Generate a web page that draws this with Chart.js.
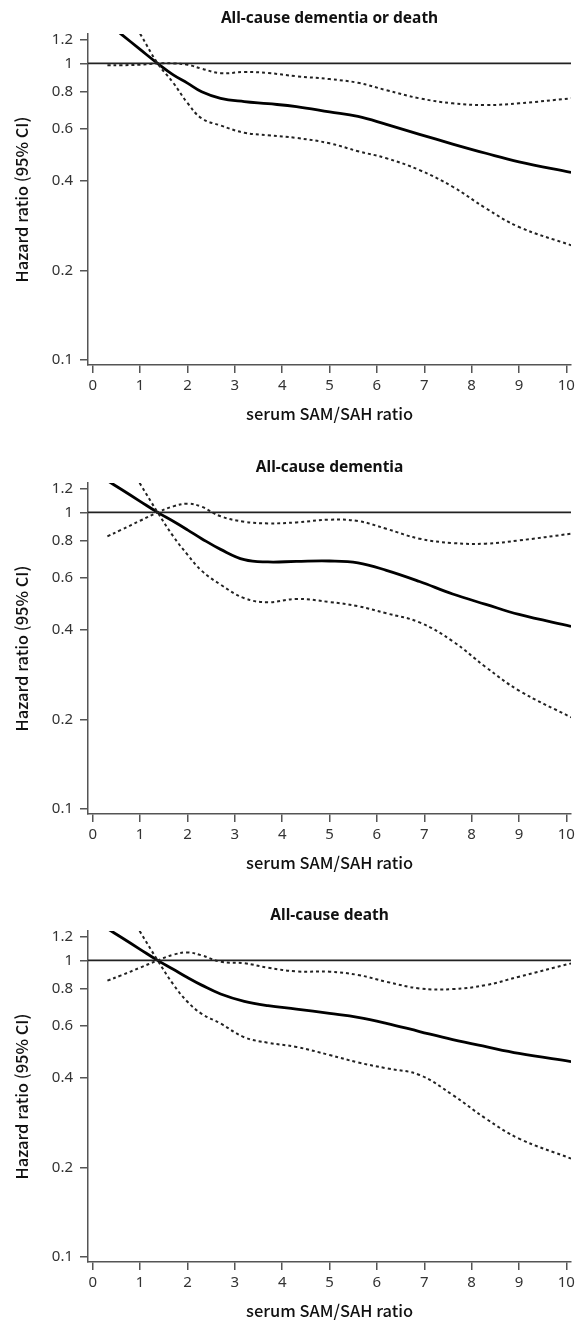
<!DOCTYPE html>
<html>
<head>
<meta charset="utf-8">
<script src="https://cdn.jsdelivr.net/npm/chart.js@4.4.1/dist/chart.umd.min.js"></script>
<style>
  html, body { margin: 0; padding: 0; background: #fff; overflow: hidden; }
  .panel { position: absolute; left: 0; width: 579px; }
</style>
</head>
<body>
<div class="panel" style="top:0px"><canvas id="c1" width="579" height="430"></canvas></div>
<div class="panel" style="top:449px"><canvas id="c2" width="579" height="430"></canvas></div>
<div class="panel" style="top:897px"><canvas id="c3" width="579" height="430"></canvas></div>
<script>
// ---- data ----
const panelTitles = ["All-cause dementia or death", "All-cause dementia", "All-cause death"];
const xTitle = "serum SAM/SAH ratio";
const yTitle = "Hazard ratio (95% CI)";
const xTicks = [0, 1, 2, 3, 4, 5, 6, 7, 8, 9, 10];
const yTicks = [0.1, 0.2, 0.4, 0.6, 0.8, 1, 1.2];
const xRange = [-0.1, 10.1];
const yRange = [0.0957, 1.256];
const refLine = [1, 1];

const xValues = [0.31, 0.6, 1.0, 1.37, 1.7, 2.0, 2.3, 2.7, 3.2, 3.7, 4.3, 5.0, 5.6, 6.2, 6.9, 7.6, 8.3, 9.0, 10.1];

// All-cause dementia or death
const hr1 = [1.37, 1.256, 1.115, 1.0, 0.915, 0.858, 0.802, 0.762, 0.743, 0.731, 0.715, 0.686, 0.662, 0.622, 0.576, 0.534, 0.497, 0.465, 0.428];
const hi1 = [0.985, 0.986, 0.99, 1.0, 1.0, 0.99, 0.96, 0.927, 0.935, 0.928, 0.905, 0.885, 0.86, 0.812, 0.762, 0.733, 0.723, 0.733, 0.762];
const lo1 = [null, 1.6, 1.26, 1.0, 0.86, 0.735, 0.652, 0.617, 0.583, 0.572, 0.56, 0.537, 0.505, 0.478, 0.436, 0.383, 0.324, 0.28, 0.243];

// All-cause dementia
const hr2 = [1.28, 1.197, 1.09, 1.0, 0.933, 0.873, 0.815, 0.75, 0.692, 0.68, 0.683, 0.685, 0.675, 0.637, 0.584, 0.53, 0.489, 0.452, 0.412];
const hi2 = [0.83, 0.873, 0.937, 1.0, 1.048, 1.07, 1.045, 0.97, 0.93, 0.918, 0.925, 0.945, 0.935, 0.88, 0.815, 0.788, 0.784, 0.804, 0.847];
const lo2 = [null, 1.6, 1.25, 1.0, 0.83, 0.72, 0.635, 0.57, 0.513, 0.497, 0.51, 0.498, 0.482, 0.456, 0.425, 0.367, 0.30, 0.25, 0.203];

// All-cause death
const hr3 = [1.28, 1.197, 1.09, 1.0, 0.933, 0.875, 0.825, 0.77, 0.727, 0.703, 0.685, 0.662, 0.642, 0.613, 0.575, 0.54, 0.511, 0.485, 0.455];
const hi3 = [0.854, 0.89, 0.945, 1.0, 1.045, 1.064, 1.04, 0.99, 0.978, 0.945, 0.918, 0.916, 0.893, 0.847, 0.804, 0.80, 0.825, 0.881, 0.977];
const lo3 = [null, 1.6, 1.25, 1.0, 0.83, 0.725, 0.66, 0.612, 0.55, 0.527, 0.51, 0.479, 0.452, 0.432, 0.41, 0.351, 0.292, 0.25, 0.214];

const panels = [
  { id: "c1", hr: hr1, hi: hi1, lo: lo1 },
  { id: "c2", hr: hr2, hi: hi2, lo: lo2 },
  { id: "c3", hr: hr3, hi: hi3, lo: lo3 }
];

// ---- drawing ----
const CANVAS_H = 430;
const PLOT_BOTTOM = 365;
const AXIS_COLOR = "#555";
const TXT = "#333";
const tickFont = { family: "'Noto Sans', 'DejaVu Sans', sans-serif", size: 15 };
const titleFamily = "'Noto Sans CJK JP', 'Noto Sans', sans-serif";

function pts(ys) {
  return xValues.map((x, i) => ({ x: x, y: ys[i] }));
}

panels.forEach((p, idx) => {
  const dotted = { borderColor: "#222", borderWidth: 2, borderDash: [3, 3], pointRadius: 0, tension: 0.4, clip: 0, fill: false };
  new Chart(document.getElementById(p.id), {
    type: "line",
    data: {
      datasets: [
        { data: [{ x: xRange[0], y: refLine[0] }, { x: xRange[1], y: refLine[1] }], borderColor: "#222", borderWidth: 1.6, pointRadius: 0, clip: 0, tension: 0 },
        Object.assign({ data: pts(p.hi) }, dotted),
        Object.assign({ data: pts(p.lo) }, dotted),
        { data: pts(p.hr), borderColor: "#000", borderWidth: 2.8, pointRadius: 0, tension: 0.4, clip: 0 }
      ]
    },
    options: {
      responsive: false,
      animation: false,
      events: [],
      layout: { padding: { left: 0, right: 7, top: 0, bottom: 0 } },
      plugins: {
        legend: { display: false },
        tooltip: { enabled: false },
        title: {
          display: true,
          text: panelTitles[idx],
          fullSize: false,
          color: "#111",
          font: { family: "'Noto Sans', sans-serif", size: 15.5, weight: "bold", lineHeight: 1.2 },
          padding: { top: 9.5, bottom: 6 }
        }
      },
      scales: {
        x: {
          type: "linear",
          min: xRange[0],
          max: xRange[1],
          afterBuildTicks: s => { s.ticks = xTicks.map(v => ({ value: v })); },
          afterFit: s => { s.height = CANVAS_H - PLOT_BOTTOM; },
          grid: { display: true, drawOnChartArea: false, drawTicks: true, tickLength: 8, color: AXIS_COLOR, lineWidth: 1.5 },
          border: { display: true, color: AXIS_COLOR, width: 1.5 },
          ticks: { color: TXT, font: tickFont, padding: 4, maxRotation: 0, autoSkip: false },
          title: { display: true, text: xTitle, color: "#111", font: { family: titleFamily, size: 16.5, weight: "500", lineHeight: 1.2 }, padding: { top: 0, bottom: 6 } }
        },
        y: {
          type: "logarithmic",
          min: yRange[0],
          max: yRange[1],
          afterBuildTicks: s => { s.ticks = yTicks.map(v => ({ value: v })); },
          afterFit: s => { s.width = 88; },
          grid: { display: true, drawOnChartArea: false, drawTicks: true, tickLength: 8, color: AXIS_COLOR, lineWidth: 1.5 },
          border: { display: true, color: AXIS_COLOR, width: 1.5 },
          ticks: { color: TXT, font: tickFont, padding: 7, autoSkip: false, callback: v => String(v) },
          title: { display: true, text: yTitle, color: "#111", font: { family: titleFamily, size: 16.5, weight: "500", lineHeight: 1.2 }, padding: { top: 12, bottom: 0 } }
        }
      }
    }
  });
});
</script>
</body>
</html>
